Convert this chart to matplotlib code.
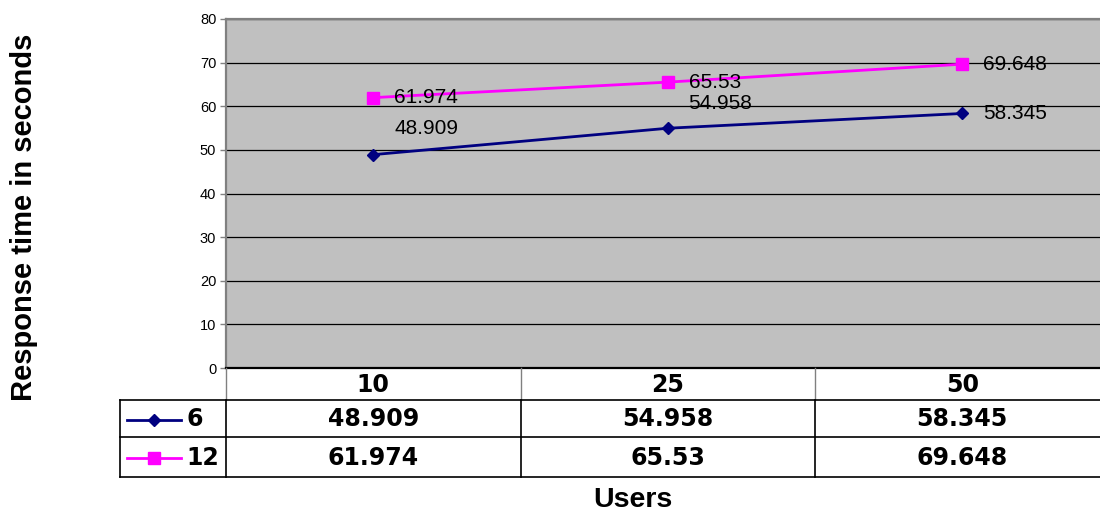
import matplotlib
matplotlib.use("Agg")
import matplotlib.pyplot as plt
from matplotlib.lines import Line2D
import matplotlib.transforms as mtransforms

# Chart data
users = ["10", "25", "50"]
series_names = ["6", "12"]
resp_6 = [48.909, 54.958, 58.345]
resp_12 = [61.974, 65.53, 69.648]
y_ticks = [0, 10, 20, 30, 40, 50, 60, 70, 80]

W, H = 1100, 515
fig = plt.figure(figsize=(W / 100, H / 100), dpi=100)


def fx(px):
    return px / W


def fy(py):
    return 1 - py / H


plot_left, plot_right, plot_top, plot_bottom = 226, 1109.5, 19, 368
ax = fig.add_axes([fx(plot_left), fy(plot_bottom),
                   fx(plot_right) - fx(plot_left), (plot_bottom - plot_top) / H])
ax.set_facecolor("#C0C0C0")
ax.set_xlim(-0.5, len(users) - 0.5)
ax.set_ylim(0, 80)
ax.set_yticks(y_ticks)
ax.set_xticks([])
ax.tick_params(axis="y", direction="out", length=4, width=1, color="#808080",
               labelsize=10.5, pad=3)
for lab in ax.get_yticklabels():
    lab.set_fontfamily("Liberation Sans")
ax.yaxis.grid(True, color="black", linewidth=0.9)
ax.set_axisbelow(True)
for side in ("left", "top"):
    ax.spines[side].set_color("#808080")
    ax.spines[side].set_linewidth(1.6)
ax.spines["right"].set_visible(False)
ax.spines["bottom"].set_color("black")
ax.spines["bottom"].set_linewidth(1.6)

xs = list(range(len(users)))
navy, magenta = "#000080", "#FF00FF"
ax.plot(xs, resp_6, color=navy, lw=2, marker="D", ms=6.5, mfc=navy, mec=navy,
        clip_on=False, zorder=3)
ax.plot(xs, resp_12, color=magenta, lw=2, marker="s", ms=9, mfc=magenta, mec=magenta,
        clip_on=False, zorder=3)

# value labels beside the points (offsets in points)
label_font = dict(fontsize=15, family="Liberation Sans", color="black", va="center", ha="left")
offs_6 = [(15, 19), (15, 18), (15, 0)]
offs_12 = [(15, 0), (15, 0), (15, 0)]
for x, v, o in zip(xs, resp_6, offs_6):
    ax.annotate(f"{v:g}", (x, v), xytext=o, textcoords="offset points", **label_font)
for x, v, o in zip(xs, resp_12, offs_12):
    ax.annotate(f"{v:g}", (x, v), xytext=o, textcoords="offset points", **label_font)

# Data table under the plot
trans = mtransforms.blended_transform_factory(ax.transData, fig.transFigure)
row_edges = [368, 400, 437, 477]
leg_left = 120
table_font = dict(fontsize=17, family="DejaVu Sans", weight="bold", color="black",
                  ha="center", va="center")

# header row with category labels
for x, u in zip(xs, users):
    fig.text(x, fy((row_edges[0] + row_edges[1]) / 2 + 1), u, transform=trans, **table_font)
# grey dividers in header row
for b in [i - 0.5 for i in range(len(users))]:
    fig.add_artist(Line2D([b, b], [fy(row_edges[0]), fy(row_edges[1])], transform=trans,
                          color="#808080", lw=1))
# body rows
for r, (name, vals, col, mk, msz) in enumerate(
        [(series_names[0], resp_6, navy, "D", 6),
         (series_names[1], resp_12, magenta, "s", 8)]):
    yc = fy((row_edges[r + 1] + row_edges[r + 2]) / 2 + 1)
    for x, v in zip(xs, vals):
        fig.text(x, yc, f"{v:g}", transform=trans, **table_font)
    fig.add_artist(Line2D([fx(127), fx(181)], [yc, yc], color=col, lw=2))
    fig.add_artist(Line2D([fx(154)], [yc], color=col, marker=mk, ms=msz, mfc=col, mec=col))
    fig.text(fx(186), yc, name, fontsize=17, family="DejaVu Sans", weight="bold",
             ha="left", va="center")

for ry in row_edges[1:]:
    fig.add_artist(Line2D([fx(leg_left), 1.0], [fy(ry), fy(ry)], color="black", lw=1.2))
fig.add_artist(Line2D([fx(leg_left), fx(leg_left)], [fy(row_edges[1]), fy(row_edges[3])],
                      color="black", lw=1.2))
for b in [i - 0.5 for i in range(len(users))]:
    fig.add_artist(Line2D([b, b], [fy(row_edges[1]), fy(row_edges[3])], transform=trans,
                          color="black", lw=1.2))

# axis titles
fig.text(fx(24), fy(217), "Response time in seconds", rotation=90, fontsize=21,
         family="Liberation Sans", weight="bold", ha="center", va="center")
fig.text(fx(633), fy(500), "Users", fontsize=20.5, family="Liberation Sans",
         weight="bold", ha="center", va="center")

fig.savefig("out.png", dpi=100)
